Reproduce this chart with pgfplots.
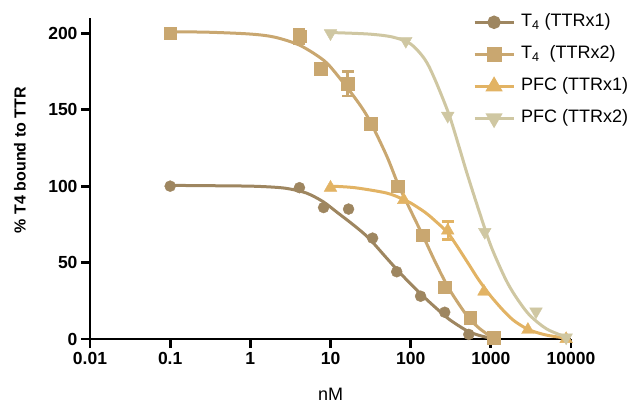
\documentclass[border=0pt]{standalone}
\usepackage{pgfplots}
\pgfplotsset{compat=1.18}
\usepackage{fontspec}
\setmainfont{Liberation Sans}
\definecolor{cA}{RGB}{158,134,96}
\definecolor{cB}{RGB}{201,167,112}
\definecolor{cC}{RGB}{226,179,100}
\definecolor{cD}{RGB}{207,199,162}
\pgfplotsset{
  pts/.style={only marks, mark options={solid, fill=#1, draw=#1}, color=#1,
    error bars/y dir=both, error bars/y explicit,
    error bars/error bar style={line width=2.4pt, color=#1},
    error bars/error mark options={line width=2.4pt, mark size=6pt, rotate=90, color=#1}},
  fit/.style={no marks, smooth, line width=3pt, color=#1},
}
\begin{document}
\begin{tikzpicture}
\useasboundingbox (-90pt,-66pt) rectangle (538pt,339pt);
\begin{axis}[
  scale only axis, width=481pt, height=321pt,
  xmode=log, xmin=0.01, xmax=10000, ymin=0, ymax=210,
  axis lines=left,
  axis line style={line width=2.8pt, -},
  xtick={0.01,0.1,1,10,100,1000,10000},
  xticklabels={0.01,0.1,1,10,100,1000,10000},
  ytick={0,50,100,150,200},
  xminorticks=false, yminorticks=false,
  tick align=outside, major tick length=9pt,
  tick style={line width=2.8pt, black},
  ticklabel style={font=\bfseries\fontsize{17.5}{20}\selectfont},
  xticklabel style={yshift=-1pt},
  /pgf/number format/assume math mode=true,
  xlabel={nM}, ylabel={\% T4 bound to TTR},
  xlabel style={font=\fontsize{18}{21}\selectfont, at={(axis description cs:0.5,-0.172)}, anchor=center},
  ylabel style={font=\bfseries\fontsize{16}{19}\selectfont, at={(axis description cs:-0.1455,0.557)}, anchor=center},
  legend cell align=left,
  legend style={at={(axis description cs:0.796,1.02)}, anchor=north west, draw=none, fill=none,
    font=\fontsize{18}{21}\selectfont, row sep=11pt, column sep=4pt, inner sep=0pt,
    nodes={text height=13pt, text depth=4pt}},
  legend image code/.code={\draw[mark repeat=2, mark phase=2, #1] plot coordinates {(0pt,0pt) (19.5pt,0pt) (39pt,0pt)};},
  clip=false,
]
% fitted curves
\addplot[fit=cA, forget plot] coordinates {(0.1,100.5) (0.3,100.3) (1,100) (2,99.3) (3,98.3) (5,95.5) (8,90) (12,83) (20,74) (30,66) (50,53) (70,44.5) (100,36) (150,27) (200,21) (300,13) (500,5.5) (700,2.5) (1000,0.5)};
\addplot[fit=cB, forget plot] coordinates {(0.1,201) (0.3,200.7) (1,199.5) (2,197.5) (4,192.5) (7,185) (10,178) (20,158) (30,144) (50,120) (70,101) (100,84) (150,65) (200,51) (300,33) (500,15.5) (700,7.5) (1000,1.5)};
\addplot[fit=cC, forget plot] coordinates {(10,100) (20,99) (50,95.5) (80,91.5) (100,89) (150,83) (200,77.5) (300,68.5) (500,51) (700,39) (1000,28) (1500,17.5) (2000,11.5) (3000,6) (5000,2.5) (9000,0.5)};
\addplot[fit=cD, forget plot] coordinates {(10,200.5) (30,199.5) (60,197.5) (100,193) (150,183) (200,170) (300,147) (400,126) (500,109) (700,85) (1000,61) (1500,40) (2000,28.5) (3000,16) (5000,6.5) (9000,1)};
% data points
\addplot[pts=cA, mark=*, mark size=5.5pt, forget plot] coordinates {(0.1,100) (4.1,99) (8.2,86) (16.8,85) (33.5,66) (67,44) (133,28) (266,17.5) (531,3)};
\addplot[pts=cB, mark=square*, mark size=6.3pt, forget plot] coordinates {(0.1,200) (4.1,198) +- (0,5) (7.5,177) (16.3,167) +- (0,8) (32,141) (69,100) (141,68) (266,34) (550,14) (1090,1)};
\addplot[pts=cC, mark=triangle*, mark size=7.3pt, forget plot] coordinates {(10,99) (82,91) (290,71) +- (0,6) (820,31) (2900,6) (8700,0)};
\addplot[pts=cD, mark=triangle*, mark size=7.3pt, mark options={rotate=180}, forget plot] coordinates {(10,200) (87,195) (290,146) (840,70) (3660,18) (8700,1)};
% legend entries
\addlegendimage{line width=3pt, color=cA, mark=*, mark size=5.2pt, mark options={fill=cA}}
\addlegendimage{line width=3pt, color=cB, mark=square*, mark size=6pt, mark options={fill=cB}}
\addlegendimage{line width=3pt, color=cC, mark=triangle*, mark size=7pt, mark options={fill=cC}}
\addlegendimage{line width=3pt, color=cD, mark=triangle*, mark size=7pt, mark options={fill=cD, rotate=180}}
\legend{T\textsubscript{4} (TTRx1), T\textsubscript{4}\ \ (TTRx2), PFC (TTRx1), PFC (TTRx2)}
\end{axis}
\end{tikzpicture}
\end{document}
